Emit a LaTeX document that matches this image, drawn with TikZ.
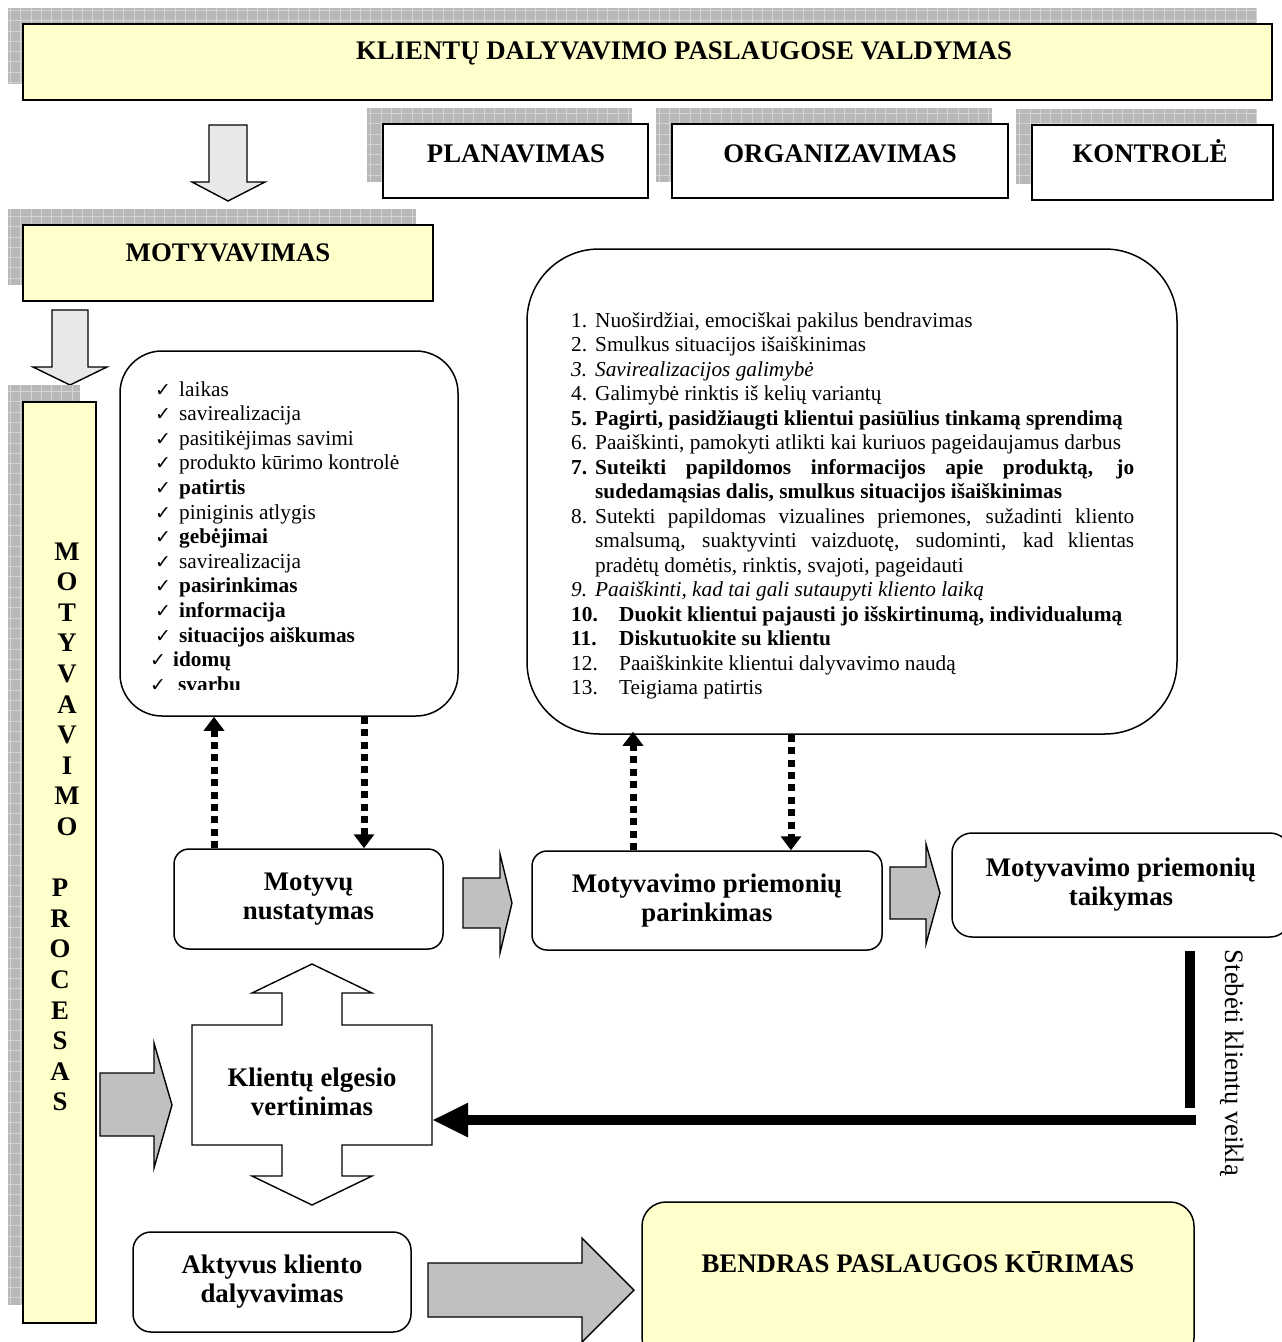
\documentclass[tikz,border=0pt]{standalone}
\usepackage{fontspec}
\setmainfont{Liberation Serif}
\newfontfamily\checkfont{DejaVu Sans}
\usetikzlibrary{arrows.meta,calc}

\definecolor{paleyellow}{HTML}{FFFFCC}
\definecolor{shadowgrey}{HTML}{B8B8B8}
\definecolor{gridgrey}{HTML}{D4D4D4}
\definecolor{arrowlight}{HTML}{E8E8E8}
\definecolor{arrowgrey}{HTML}{C0C0C0}

% hatched grey shadow behind a framed box: top-left x,y and bottom-right x,y
\newcommand{\gridshadow}[4]{%
  \begin{scope}
    \clip (#1,#2) rectangle (#3,#4);
    \fill[shadowgrey] (#1,#2) rectangle (#3,#4);
    \draw[gridgrey, line width=0.8pt, step=10.3pt] (#1,#4) grid (#3,#2);
  \end{scope}}

% one line of the check list: name, tick x, text x, text, baseline y
\newcommand{\checkline}[5]{%
  \node[tickmark, anchor=base west] (#1-c) at (#2,#5) {✓};
  \node[listtext, anchor=base west] (#1) at (#3,#5) {#4};}

% numbered entries of the measures list
\newcommand{\numitem}[2]{\hangindent=24pt\hangafter=1\noindent\makebox[24pt][l]{#1}#2\par}
\newcommand{\wideitem}[2]{\noindent\makebox[48pt][l]{#1}#2\par}

\tikzset{
  framebox/.style={draw=black, line width=2pt, fill=white, inner sep=0pt},
  yellowbox/.style={draw=black, line width=2.6pt, fill=paleyellow, inner sep=0pt},
  roundbox/.style={draw=black, line width=1.5pt, fill=white, rounded corners=15pt, inner sep=0pt, align=center},
  blockarrow/.style={draw=black, line width=1.4pt, line join=miter},
  dotlink/.style={line width=7pt, dash pattern=on 7pt off 5.4pt, -{Triangle[width=20pt,length=14pt]}},
  headtext/.style={font=\bfseries\fontsize{26.8}{29}\selectfont, inner sep=0pt},
  plaintext/.style={font=\fontsize{26.6}{29}\selectfont, inner sep=0pt},
  listtext/.style={font=\fontsize{21.3}{24.5}\selectfont, inner sep=0pt},
  tickmark/.style={font=\checkfont\fontsize{19}{19}\selectfont, inner sep=0pt},
}

\begin{document}
\begin{tikzpicture}[x=1pt, y=-1pt]
\useasboundingbox (0,0) rectangle (1282,1342);
\clip (0,0) rectangle (1282,1342);

% ---------- management header ----------
\gridshadow{8}{8}{1257}{84}
\node[yellowbox, minimum width=1249pt, minimum height=76pt] (mgmt) at (647.5,62) {};
\node[headtext, anchor=base] (mgmt-t) at (684,59) {KLIENTŲ DALYVAVIMO PASLAUGOSE VALDYMAS};

\gridshadow{367}{108}{632}{182}
\node[framebox, minimum width=265pt, minimum height=74pt] (plan) at (515.5,161) {};
\node[headtext, anchor=base] (plan-t) at (516,162) {PLANAVIMAS};

\gridshadow{656}{108}{992}{182}
\node[framebox, minimum width=336pt, minimum height=74pt] (org) at (840,161) {};
\node[headtext, anchor=base] (org-t) at (840,162) {ORGANIZAVIMAS};

\gridshadow{1016}{109}{1257}{184}
\node[framebox, minimum width=241pt, minimum height=75pt] (ctrl) at (1152.5,162.5) {};
\node[headtext, anchor=base] (ctrl-t) at (1150,162) {KONTROLĖ};

% down arrow to motivation
\draw[blockarrow, fill=arrowlight] (209,125) -- (247,125) -- (247,182) -- (265,182)
  -- (228,201) -- (192,182) -- (209,182) -- cycle;

\gridshadow{8}{209}{416}{285}
\node[yellowbox, minimum width=410pt, minimum height=76pt] (motiv) at (228,263) {};
\node[headtext, anchor=base] (motiv-t) at (228,261) {MOTYVAVIMAS};

\draw[blockarrow, fill=arrowlight] (52,310) -- (88,310) -- (88,367) -- (107,367)
  -- (70,385) -- (33,367) -- (52,367) -- cycle;

% ---------- vertical process column ----------
\gridshadow{8}{385}{80}{1305}
\node[yellowbox, minimum width=73pt, minimum height=921pt] (process) at (59.5,862.5) {};
\foreach \ch [count=\i] in {M,O,T,Y,V,A,V,I,M,O}
  \node[headtext, anchor=base] (pa\i) at (67,{560+(\i-1)*30.6}) {\ch};
\foreach \ch [count=\i] in {P,R,O,C,E,S,A,S}
  \node[headtext, anchor=base] (pb\i) at (60,{560+(\i+10)*30.6}) {\ch};

% ---------- motives check list ----------
\node[roundbox, rounded corners=42pt, minimum width=338pt, minimum height=365pt] (motives) at (289,533.5) {};
\begin{scope}
  \clip (120,351) rectangle (458,689);
  \checkline{m1}{155}{179}{laikas}{396}
  \checkline{m2}{155}{179}{savirealizacija}{420.6}
  \checkline{m3}{155}{179}{pasitikėjimas savimi}{445.2}
  \checkline{m4}{155}{179}{produkto kūrimo kontrolė}{469.8}
  \checkline{m5}{155}{179}{\textbf{patirtis}}{494.4}
  \checkline{m6}{155}{179}{piniginis atlygis}{519}
  \checkline{m7}{155}{179}{\textbf{gebėjimai}}{543.6}
  \checkline{m8}{155}{179}{savirealizacija}{568.2}
  \checkline{m9}{155}{179}{\textbf{pasirinkimas}}{592.8}
  \checkline{m10}{155}{179}{\textbf{informacija}}{617.4}
  \checkline{m11}{155}{179}{\textbf{situacijos aiškumas}}{642}
  \checkline{m12}{150}{173}{\textbf{idomų}}{666.6}
  \checkline{m13}{150}{178}{\textbf{svarbu}}{691.2}
\end{scope}

% ---------- measures list ----------
\node[roundbox, rounded corners=72pt, minimum width=650pt, minimum height=485pt] (measures) at (852,491.5) {};
\node[listtext, anchor=base west, text width=563pt, align=justify] (measures-t) at (571,327) {%
  \tolerance=9999 \hyphenpenalty=10000 \parskip=0pt
  \numitem{1.}{Nuoširdžiai, emociškai pakilus bendravimas}
  \numitem{2.}{Smulkus situacijos išaiškinimas}
  {\itshape\numitem{3.}{Savirealizacijos galimybė}}
  \numitem{4.}{Galimybė rinktis iš kelių variantų}
  {\bfseries\numitem{5.}{Pagirti, pasidžiaugti klientui pasiūlius tinkamą sprendimą}}
  \numitem{6.}{Paaiškinti, pamokyti atlikti kai kuriuos pageidaujamus darbus}
  {\bfseries\numitem{7.}{Suteikti papildomos informacijos apie produktą, jo\linebreak sudedamąsias dalis, smulkus situacijos išaiškinimas}}
  \numitem{8.}{Sutekti papildomas vizualines priemones, sužadinti kliento\linebreak smalsumą, suaktyvinti vaizduotę, sudominti, kad klientas\linebreak pradėtų domėtis, rinktis, svajoti, pageidauti}
  {\itshape\numitem{9.}{Paaiškinti, kad tai gali sutaupyti kliento laiką}}
  {\bfseries\wideitem{10.}{Duokit klientui pajausti jo išskirtinumą, individualumą}}
  {\bfseries\wideitem{11.}{Diskutuokite su klientu}}
  \wideitem{12.}{Paaiškinkite klientui dalyvavimo naudą}
  \wideitem{13.}{Teigiama patirtis}
};

% ---------- process steps ----------
\node[roundbox, headtext, minimum width=269pt, minimum height=100pt] (find) at (308.5,899) {Motyvų\\nustatymas};
\node[roundbox, headtext, minimum width=350pt, minimum height=99pt] (choose) at (707,900.5) {Motyvavimo priemonių\\parinkimas};
\node[roundbox, headtext, rounded corners=20pt, minimum width=338pt, minimum height=104pt] (apply) at (1121,885) {Motyvavimo priemonių\\taikymas};

\coordinate (xa) at (214,0);
\coordinate (xb) at (364,0);
\coordinate (xc) at (633,0);
\coordinate (xd) at (791,0);
\draw[dotlink] (find.north -| xa) -- (motives.south -| xa);
\draw[dotlink] (motives.south -| xb) -- (find.north -| xb);
\draw[dotlink] (choose.north -| xc) -- ([yshift=3pt]measures.south -| xc);
\draw[dotlink] (measures.south -| xd) -- (choose.north -| xd);

% grey block arrows between steps
\draw[blockarrow, fill=arrowgrey] (463,878) -- (500,878) -- (500,854) -- (512,903)
  -- (500,953) -- (500,928) -- (463,928) -- cycle;
\draw[blockarrow, fill=arrowgrey] (890,867) -- (926,867) -- (926,844) -- (940,893)
  -- (926,944) -- (926,919) -- (890,919) -- cycle;
\draw[blockarrow, fill=arrowgrey] (100,1073) -- (154,1073) -- (154,1043) -- (172,1105)
  -- (154,1168) -- (154,1136) -- (100,1136) -- cycle;

% ---------- evaluation of client behaviour ----------
\draw[blockarrow, fill=white] (192,1025) -- (282,1025) -- (282,993) -- (252,993) -- (312,964)
  -- (372,993) -- (342,993) -- (342,1025) -- (432,1025) -- (432,1145) -- (342,1145)
  -- (342,1176) -- (372,1176) -- (312,1205) -- (252,1176) -- (282,1176) -- (282,1145)
  -- (192,1145) -- cycle;
\node[headtext, align=center, minimum width=240pt] (eval) at (312,1092) {Klientų elgesio\\vertinimas};

% feedback from applying the measures
\coordinate (fbtop) at (1190,951);
\coordinate (fbbot) at (1190,1108);
\coordinate (fbstart) at (1196,1120);
\draw[line width=10pt] (fbtop) -- (fbbot);
\draw[line width=10pt, -{Triangle[width=32pt,length=36pt]}] (fbstart) -- (eval.east |- fbstart);
\node[plaintext, rotate=-90] (watch) at (1232,1063) {Stebėti klientų veiklą};

% ---------- outcome ----------
\node[roundbox, headtext, rounded corners=18pt, minimum width=278pt, minimum height=100pt] (active) at (272,1282) {Aktyvus kliento\\dalyvavimas};
\draw[blockarrow, fill=arrowgrey] (428,1263) -- (582,1263) -- (582,1238) -- (634,1290)
  -- (582,1342) -- (582,1317) -- (428,1317) -- cycle;
\node[roundbox, fill=paleyellow, rounded corners=24pt, minimum width=552pt, minimum height=160pt] (cocreate) at (918,1282) {};
\node[headtext, anchor=base] (cocreate-t) at (918,1272) {BENDRAS PASLAUGOS KŪRIMAS};
\end{tikzpicture}
\end{document}
